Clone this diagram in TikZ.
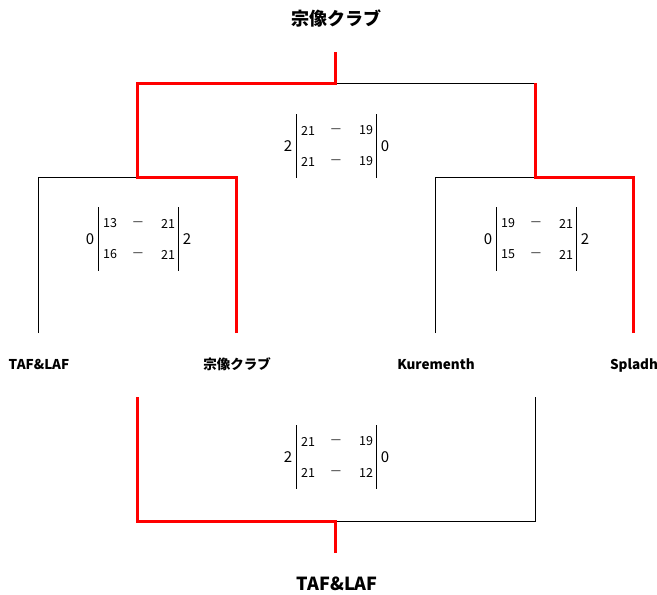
\documentclass[tikz,border=0pt]{standalone}
\usepackage{fontspec}
\setmainfont{Noto Sans CJK JP}
\begin{document}
\begin{tikzpicture}[x=1pt,y=-1pt,
  thin line/.style={draw=black,line width=1pt},
  win line/.style={draw=red,line width=3pt,line join=miter},
  title/.style={inner sep=0pt,anchor=base,font=\fontsize{18}{20}\selectfont\bfseries},
  team/.style={inner sep=0pt,anchor=base,font=\fontsize{13.5}{15}\selectfont\bfseries},
  big score/.style={inner sep=0pt,font=\fontsize{15}{17}\selectfont},
  small score/.style={inner sep=0pt,font=\fontsize{12.5}{14}\selectfont},
  dash sign/.style={inner sep=0pt,font=\fontsize{11.5}{13}\selectfont},
  bar/.style={draw=black,line width=0.9pt}]
\useasboundingbox (0,0) rectangle (657,595);
\newcommand{\scorebox}[9]{%
  \node[big score] (#1L) at (#2-47,#3) {#4};
  \node[big score] (#1R) at (#2+50,#3) {#9};
  \node[small score] (#1a) at (#2-27,#3-15.5) {#5};
  \node[dash sign] (#1d) at (#2+1,#3-15.5) {—};
  \node[small score] (#1b) at (#2+31,#3-15.5) {#6};
  \node[small score] (#1c) at (#2-27,#3+15.5) {#7};
  \node[dash sign] (#1e) at (#2+1,#3+15.5) {—};
  \node[small score] (#1f) at (#2+31,#3+15.5) {#8};
  \coordinate (#1p1) at (#2-39,#3-32);
  \coordinate (#1p2) at (#2-39,#3+32);
  \coordinate (#1q1) at (#2+41,#3-32);
  \coordinate (#1q2) at (#2+41,#3+32);
  \draw[bar] (#1p1) -- (#1p2);
  \draw[bar] (#1q1) -- (#1q2);
}
% titles and team labels
\node[title] (champ) at (336,25) {宗像クラブ};
\node[title] (third) at (337,590) {TAF\&LAF};
\node[team] (t1) at (39,369) {TAF\&LAF};
\node[team] (t2) at (237,369) {宗像クラブ};
\node[team] (t3) at (436,369) {Kurementh};
\node[team] (t4) at (634,369) {Spladh};
% coordinates
\coordinate (a1) at (38,333);   \coordinate (a1t) at (38,177);
\coordinate (a2) at (236,333);  \coordinate (a2t) at (236,177);
\coordinate (sL) at (137,177);  \coordinate (sLt) at (137,83);
\coordinate (b1) at (435,333);  \coordinate (b1t) at (435,177);
\coordinate (b2) at (633,333);  \coordinate (b2t) at (633,177);
\coordinate (sR) at (535,177);  \coordinate (sRt) at (535,83);
\coordinate (fC) at (335,83);   \coordinate (fT) at (335,52);
\coordinate (c1) at (137,397);  \coordinate (c1b) at (137,521);
\coordinate (c2) at (535,397);  \coordinate (c2b) at (535,521);
\coordinate (cC) at (335,521);  \coordinate (cB) at (335,553);
% losing lines
\draw[thin line] (a1) -- (a1t) -- (sL);
\draw[thin line] (b1) -- (b1t) -- (sR);
\draw[thin line] (fC) -- (sRt);
\draw[thin line] (c2) -- (c2b) -- (cC);
% winning lines
\draw[win line] (a2) -- (a2t) -- (sL) -- (sLt) -- (fC) -- (fT);
\draw[win line] (b2) -- (b2t) -- (sR) -- (sRt);
\draw[win line] (c1) -- (c1b) -- (cC) -- (cB);
% scores
\scorebox{f}{335}{146}{2}{21}{19}{21}{19}{0}
\scorebox{l}{137}{239}{0}{13}{21}{16}{21}{2}
\scorebox{r}{535}{239}{0}{19}{21}{15}{21}{2}
\scorebox{m}{335}{457}{2}{21}{19}{21}{12}{0}
\end{tikzpicture}
\end{document}
